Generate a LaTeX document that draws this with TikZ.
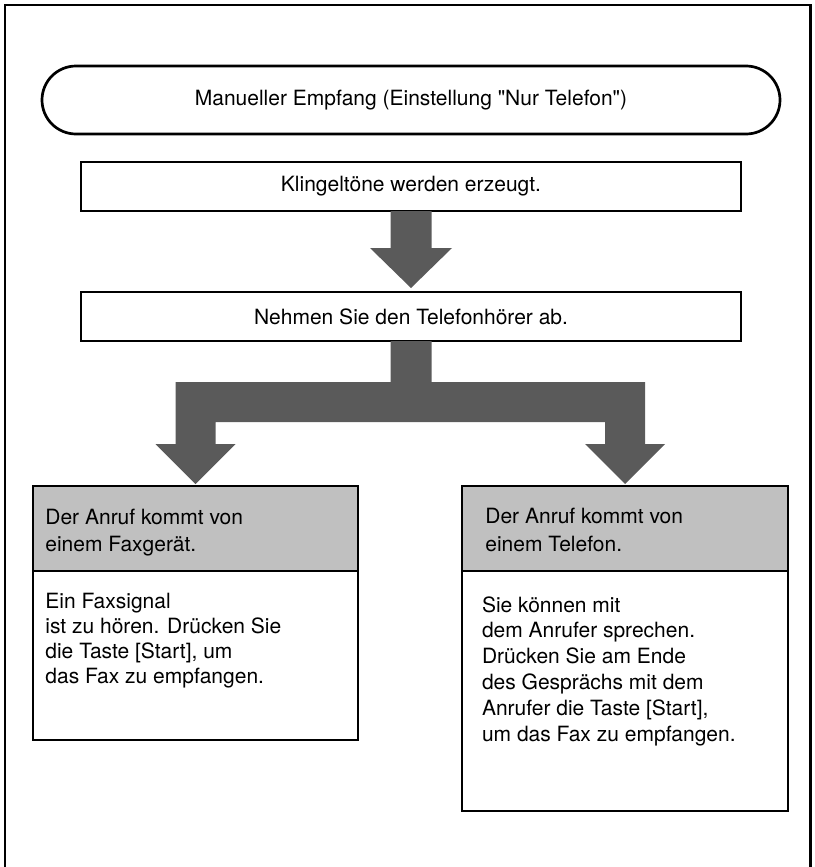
\documentclass[tikz,border=0pt]{standalone}
\usepackage{fontspec}
\setmainfont{TeX Gyre Heros}[Ligatures=TeXOff]
\usetikzlibrary{positioning}

\definecolor{headgray}{RGB}{192,192,192}
\definecolor{arrowgray}{RGB}{90,90,90}

\begin{document}
\begin{tikzpicture}[
        x=0.5pt, y=-0.5pt,
        node distance=14pt,
        title_node/.style={draw, rectangle, rounded corners=17pt, minimum width=369pt, minimum height=34pt, line width=1.35pt, outer sep=0pt, font=\fontsize{10.5}{12.6}\selectfont},
        step_node/.style={draw, rectangle, minimum width=330pt, minimum height=24.5pt, line width=1.3pt, outer sep=0pt, font=\fontsize{10.5}{12.6}\selectfont},
        head_node/.style={draw, rectangle, fill=headgray, minimum height=42.5pt, line width=1.3pt, outer sep=0pt},
        body_node/.style={draw, rectangle, line width=1.3pt, outer sep=0pt},
        box_text/.style={anchor=north west, inner sep=0pt, align=left},
        block_arrow/.style={fill=arrowgray},
        frame_line/.style={line width=1.1pt}
    ]
        \useasboundingbox (0,0) rectangle (814,867);

        % Frame
        \draw [frame_line] (5,880) -- (5,5) -- (810.5,5) -- (810.5,880);

        % Nodes
        \node (title) [title_node] at (411,100) {Manueller Empfang (Einstellung "Nur Telefon")};
        \node (ring) [step_node, below=14pt of title] {Klingeltöne werden erzeugt.};
        \node (pickup) [step_node, below=40.5pt of ring] {Nehmen Sie den Telefonhörer ab.};
        \node (fax_head) [head_node, minimum width=162.5pt] at (195.5,528.5) {};
        \node (tel_head) [head_node, minimum width=163pt] at (625,528.5) {};
        \node (fax_body) [body_node, minimum width=162.5pt, minimum height=84.5pt, below=0pt of fax_head] {};
        \node (tel_body) [body_node, minimum width=163pt, minimum height=120pt, below=0pt of tel_head] {};

        % Texts in the boxes
        \node (fax_head_text) [box_text, font=\fontsize{10.5}{13.4}\selectfont] at ([xshift=6pt, yshift=-11.5pt]fax_head.north west) {Der Anruf kommt von\\einem Faxgerät.};
        \node (tel_head_text) [box_text, font=\fontsize{10.5}{13.8}\selectfont] at ([xshift=11.5pt, yshift=-11pt]tel_head.north west) {Der Anruf kommt von\\einem Telefon.};
        \node (fax_body_text) [box_text, font=\fontsize{10.5}{12.4}\selectfont] at ([xshift=6pt, yshift=-11pt]fax_body.north west) {Ein Faxsignal\\ist zu hören. Drücken Sie\\die Taste [Start], um\\das Fax zu empfangen.};
        \node (tel_body_text) [box_text, font=\fontsize{10.5}{12.9}\selectfont] at ([xshift=9.8pt, yshift=-12.5pt]tel_body.north west) {Sie können mit\\dem Anrufer sprechen.\\Drücken Sie am Ende\\des Gesprächs mit dem\\Anrufer die Taste [Start],\\um das Fax zu empfangen.};

        % Arrows
        \coordinate (split_top) at ([yshift=-20.5pt]pickup.south);
        \coordinate (split_bottom) at ([yshift=-40.5pt]pickup.south);
        \fill [block_arrow] ([xshift=-10.25pt]ring.south) |- ([xshift=-20.5pt, yshift=22pt]pickup.north) -- ([yshift=2pt]pickup.north) -- ([xshift=20.5pt, yshift=22pt]pickup.north) -| ([xshift=10.25pt]ring.south) -- cycle;
        \fill [block_arrow] ([xshift=-10.25pt]pickup.south) -- ([xshift=-10.25pt]split_top) -| ([xshift=-10pt, yshift=21pt]fax_head.north)
            -- ([xshift=-20pt, yshift=21pt]fax_head.north) -- ([yshift=1pt]fax_head.north) -- ([xshift=20pt, yshift=21pt]fax_head.north)
            -- ([xshift=10pt, yshift=21pt]fax_head.north) |- (split_bottom) -| ([xshift=-10pt, yshift=21pt]tel_head.north)
            -- ([xshift=-20pt, yshift=21pt]tel_head.north) -- ([yshift=1pt]tel_head.north) -- ([xshift=20pt, yshift=21pt]tel_head.north)
            -- ([xshift=10pt, yshift=21pt]tel_head.north) |- ([xshift=10.25pt]split_top) -- ([xshift=10.25pt]pickup.south) -- cycle;
    \end{tikzpicture}
\end{document}
